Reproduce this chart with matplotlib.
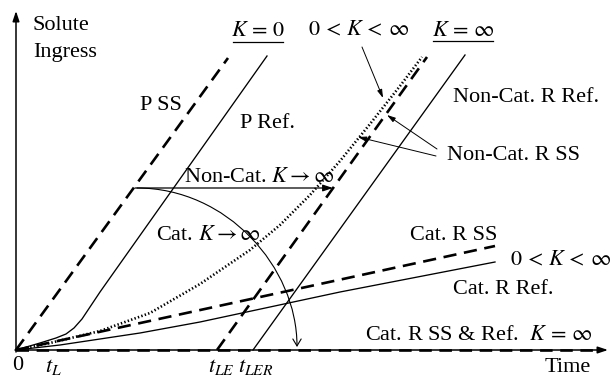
import matplotlib
matplotlib.use("Agg")
import matplotlib.pyplot as plt
from matplotlib.path import Path
from matplotlib.patches import FancyArrowPatch

plt.rcParams["font.family"] = ["Liberation Serif", "DejaVu Serif"]
plt.rcParams["mathtext.fontset"] = "stix"
plt.rcParams["lines.scale_dashes"] = False

# ---- schematic curves (time, solute ingress) ----
p_ss_t = [0, 212]
p_ss_q = [0, 292]

p_ref_t = [0, 24, 40, 50, 58, 66, 74, 84, 96, 251]
p_ref_q = [0, 7, 12, 16, 22, 31, 43, 58, 75, 294]

noncat_ss_mid_t = [0, 34, 84, 134, 184, 234, 264, 294, 324, 354, 384, 406]
noncat_ss_mid_q = [0, 7, 19, 37, 66, 100, 125, 155, 189, 226, 264, 293]

noncat_ss_inf_t = [201, 411]
noncat_ss_inf_q = [0, 293]

noncat_ref_inf_t = [237, 449]
noncat_ref_inf_q = [0, 295]

cat_ss_mid_t = [0, 479]
cat_ss_mid_q = [0, 104]

cat_ref_mid_t = [0, 44, 84, 124, 184, 324, 479]
cat_ref_mid_q = [0, 5, 11, 17, 28, 58, 88]

cat_inf_t = [0, 581]
cat_inf_q = [0, 0]

# time-lag markers on the time axis
lag_labels = ["$t_L$", "$t_{LE}$", "$t_{LER}$"]
lag_times = [29, 192, 222]

fig = plt.figure(figsize=(6.13, 3.81), dpi=100)
ax = fig.add_axes([0, 0, 1, 1])
ax.set_xlim(-16, 597)
ax.set_ylim(-31, 350)
ax.axis("off")

k = "black"
dash = (0, (9.5, 5.5))
dot = (0, (1.0, 1.6))
thin = 0.95
thick = 1.9

# axes with arrowheads
ax.annotate("", xy=(0, 339), xytext=(0, -2),
            arrowprops=dict(arrowstyle="-|>,head_length=0.6,head_width=0.2",
                            lw=1.1, color=k, shrinkA=0, shrinkB=0))
ax.annotate("", xy=(592, 0), xytext=(-1, 0),
            arrowprops=dict(arrowstyle="-|>,head_length=0.6,head_width=0.2",
                            lw=1.1, color=k, shrinkA=0, shrinkB=0))

# curves
ax.plot(p_ss_t, p_ss_q, color=k, lw=thick, ls=dash)
ax.plot(p_ref_t, p_ref_q, color=k, lw=thin)
ax.plot(noncat_ss_mid_t, noncat_ss_mid_q, color=k, lw=1.9, ls=dot)
ax.plot(noncat_ss_inf_t, noncat_ss_inf_q, color=k, lw=thick, ls=dash)
ax.plot(noncat_ref_inf_t, noncat_ref_inf_q, color=k, lw=thin)
ax.plot(cat_ss_mid_t, cat_ss_mid_q, color=k, lw=thick, ls=dash)
ax.plot(cat_ref_mid_t, cat_ref_mid_q, color=k, lw=thin)
ax.plot(cat_inf_t, cat_inf_q, color=k, lw=thick, ls=(0, (9, 5.5)))

# Non-Cat K -> infinity: horizontal shift arrow
ax.annotate("", xy=(317, 162), xytext=(119, 162),
            arrowprops=dict(arrowstyle="-|>,head_length=0.6,head_width=0.2",
                            lw=0.9, color=k, shrinkA=0, shrinkB=0))

# Cat. K -> infinity: sweeping arc down to the time axis
arc = Path([(121, 162), (211, 162), (281, 83), (281, 3)],
           [Path.MOVETO, Path.CURVE4, Path.CURVE4, Path.CURVE4])
ax.add_patch(FancyArrowPatch(path=arc, arrowstyle="->,head_length=5,head_width=3",
                             lw=0.8, color=k, shrinkA=0, shrinkB=0))

# pointer arrows
ptr = dict(arrowstyle="-|>,head_length=0.5,head_width=0.15", lw=0.7, color=k,
           shrinkA=0, shrinkB=0)
ax.annotate("", xy=(367, 252), xytext=(346, 303), arrowprops=ptr)
ax.annotate("", xy=(371, 235), xytext=(421, 201), arrowprops=ptr)
ax.annotate("", xy=(342, 213), xytext=(420, 194), arrowprops=ptr)

fs = 16
# axis titles
ax.text(17, 324, "Solute", fontsize=fs, va="center", ha="left")
ax.text(17, 298, "Ingress", fontsize=fs, va="center", ha="left")
ax.text(529, -17, "Time", fontsize=fs, va="center", ha="left")
ax.text(2, -16, "0", fontsize=fs, va="center", ha="center")
for lab, t in zip(lag_labels, lag_times):
    ax.text(t, -17, lab, fontsize=fs, va="center", ha="left")

# regime headers
ax.text(242, 319, r"$K\,=\,0$", fontsize=fs, va="center", ha="center")
ax.plot([217, 267], [308, 308], color=k, lw=0.9)
ax.text(292, 319, r"$0\,<\,K\,<\,\infty$", fontsize=fs, va="center", ha="left")
ax.text(447, 319, r"$K\,=\,\infty$", fontsize=fs, va="center", ha="center")
ax.plot([417, 477], [309, 309], color=k, lw=0.9)

# curve labels
ax.text(124, 244, "P SS", fontsize=fs, va="center", ha="left")
ax.text(224, 227, "P Ref.", fontsize=fs, va="center", ha="left")
ax.text(168, 172, r"Non-Cat. $K \rightarrow \infty$", fontsize=fs, va="center", ha="left")
ax.text(140, 115, r"Cat. $K \rightarrow \infty$", fontsize=fs, va="center", ha="left")
ax.text(437, 253, "Non-Cat. R Ref.", fontsize=fs, va="center", ha="left")
ax.text(431, 195, "Non-Cat. R SS", fontsize=fs, va="center", ha="left")
ax.text(394, 114, "Cat. R SS", fontsize=fs, va="center", ha="left")
ax.text(494, 89, r"$0\,<\,K\,<\,\infty$", fontsize=fs, va="center", ha="left")
ax.text(437, 61, "Cat. R Ref.", fontsize=fs, va="center", ha="left")
ax.text(349, 15, r"Cat. R SS & Ref.  $K\,=\,\infty$", fontsize=fs, va="center", ha="left")

fig.savefig("out.png", dpi=100)
